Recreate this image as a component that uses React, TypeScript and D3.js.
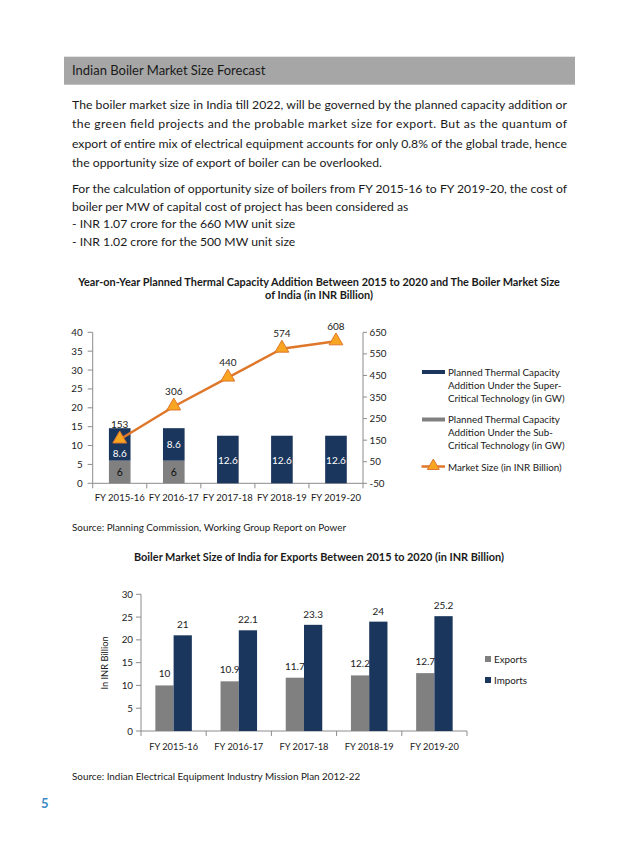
import React from "react";
import * as d3 from "d3";

// ---------- data ----------
const categories = ["FY 2015-16", "FY 2016-17", "FY 2017-18", "FY 2018-19", "FY 2019-20"];
const subCritical = [6, 6, 0, 0, 0];
const superCritical = [8.6, 8.6, 12.6, 12.6, 12.6];
const marketSize = [153, 306, 440, 574, 608];
const leftTicks = [0, 5, 10, 15, 20, 25, 30, 35, 40];
const rightTicks = [-50, 50, 150, 250, 350, 450, 550, 650];

const exportsValues = [10, 10.9, 11.7, 12.2, 12.7];
const importsValues = [21, 22.1, 23.3, 24, 25.2];
const chart2Ticks = [0, 5, 10, 15, 20, 25, 30];

const legend1 = [
  ["Planned Thermal Capacity", "Addition Under the Super-", "Critical Technology (in GW)"],
  ["Planned Thermal Capacity", "Addition Under the Sub-", "Critical Technology (in GW)"],
  ["Market Size (in INR Billion)"],
];
const legend2 = ["Exports", "Imports"];

const para1 = [
  "The boiler market size in India till 2022, will be governed by the planned capacity addition or",
  "the green field projects and the probable market size for export. But as the quantum of",
  "export of entire mix of electrical equipment accounts for only 0.8% of the global trade, hence",
  "the opportunity size of export of boiler can be overlooked.",
];
const para2 = [
  "For the calculation of opportunity size of boilers from FY 2015-16 to FY 2019-20, the cost of",
  "boiler per MW of capital cost of project has been considered as",
];
const listItems = ["- INR 1.07 crore for the 660 MW unit size", "- INR 1.02 crore for the 500 MW unit size"];

// ---------- style ----------
const FONT = "Lato, 'Open Sans', sans-serif";
const NAVY = "#1b365d";
const GRAY = "#808080";
const ORANGE = "#df772b";
const GOLD = "#f8a521";
const AXIS = "#8c8c8c";
const TEXT = "#1a1a1a";

export default function App() {
  // ---- chart 1 scales ----
  const c1 = { left: 92.7, right: 363, top: 332.3, bottom: 483.3 };
  const x1 = d3.scaleBand<string>().domain(categories).range([c1.left, c1.right]).paddingInner(0.6).paddingOuter(0.3);
  const y1 = d3.scaleLinear().domain([0, 40]).range([c1.bottom, c1.top]);
  const y1r = d3.scaleLinear().domain([-50, 650]).range([c1.bottom, c1.top]);
  const step1 = x1.step();
  const cx1 = (c: string) => (x1(c) as number) + x1.bandwidth() / 2;
  const linePath = d3
    .line<number>()
    .x((_, i) => cx1(categories[i]))
    .y((d) => y1r(d))(marketSize) as string;
  const tri = d3.symbol().type(d3.symbolTriangle).size(82)() as string;
  const triLegend = d3.symbol().type(d3.symbolTriangle).size(62)() as string;
  const labelNudge = [9, 0, 0, 0, 0];

  // ---- chart 2 scales ----
  const c2 = { left: 141, right: 467, top: 594.3, bottom: 731 };
  const x2 = d3.scaleBand<string>().domain(categories).range([c2.left, c2.right]).paddingInner(0.44).paddingOuter(0.22);
  const x2b = d3.scaleBand<string>().domain(legend2).range([0, x2.bandwidth()]);
  const y2 = d3.scaleLinear().domain([0, 30]).range([c2.bottom, c2.top]);
  const step2 = x2.step();

  const textX = 72;
  const textW = 495;
  const bodySize = 12.2;
  const p1Y = [109, 128.3, 147.5, 166.8];
  const p2Y = [192.5, 210.5];
  const lY = [228, 246.3];

  return (
    <svg
      width={638}
      height={851}
      viewBox="0 0 638 851"
      style={{ position: "absolute", left: 0, top: 0, background: "#fff" }}
      fontFamily={FONT}
    >
      <rect x={0} y={0} width={638} height={851} fill="#fff" />
      {/* header */}
      <rect x={64} y={56.7} width={511} height={28} fill="#a6a6a6" />
      <text x={72} y={75} fontSize={13} fill={TEXT}>
        Indian Boiler Market Size Forecast
      </text>

      {/* paragraphs */}
      {para1.map((t, i) => (
        <text
          key={"p1" + i}
          x={textX}
          y={p1Y[i]}
          fontSize={bodySize}
          fill={TEXT}
          {...(i < para1.length - 1 ? { textLength: textW, lengthAdjust: "spacing" } : {})}
        >
          {t}
        </text>
      ))}
      {para2.map((t, i) => (
        <text
          key={"p2" + i}
          x={textX}
          y={p2Y[i]}
          fontSize={bodySize}
          fill={TEXT}
          {...(i < para2.length - 1 ? { textLength: textW, lengthAdjust: "spacing" } : {})}
        >
          {t}
        </text>
      ))}
      {listItems.map((t, i) => (
        <text key={"li" + i} x={textX} y={lY[i]} fontSize={bodySize} fill={TEXT}>
          {t}
        </text>
      ))}

      {/* chart 1 title */}
      <text x={319} y={285.5} fontSize={10.9} fontWeight="bold" textAnchor="middle" fill={TEXT}>
        Year-on-Year Planned Thermal Capacity Addition Between 2015 to 2020 and The Boiler Market Size
      </text>
      <text x={319} y={299} fontSize={10.9} fontWeight="bold" textAnchor="middle" fill={TEXT}>
        of India (in INR Billion)
      </text>

      {/* chart 1 axes */}
      <g stroke={AXIS} strokeWidth={1}>
        <line x1={c1.left} x2={c1.left} y1={c1.top} y2={c1.bottom} />
        <line x1={c1.right} x2={c1.right} y1={c1.top} y2={c1.bottom} />
        <line x1={c1.left} x2={c1.right} y1={c1.bottom} y2={c1.bottom} />
        {leftTicks.map((t) => (
          <line key={"lt" + t} x1={c1.left - 5} x2={c1.left} y1={y1(t)} y2={y1(t)} />
        ))}
        {rightTicks.map((t) => (
          <line key={"rt" + t} x1={c1.right} x2={c1.right + 4} y1={y1r(t)} y2={y1r(t)} />
        ))}
        {d3.range(categories.length + 1).map((i) => (
          <line key={"xt" + i} x1={c1.left + i * step1} x2={c1.left + i * step1} y1={c1.bottom} y2={c1.bottom + 5} />
        ))}
      </g>
      <g fontSize={9.8} fill={TEXT}>
        {leftTicks.map((t) => (
          <text key={"ltl" + t} x={c1.left - 10} y={y1(t) + 3.5} textAnchor="end">
            {t}
          </text>
        ))}
        {rightTicks.map((t) => (
          <text key={"rtl" + t} x={c1.right + 6.5} y={y1r(t) + 3.5}>
            {t}
          </text>
        ))}
      </g>
      <g fontSize={9.5} fill={TEXT}>
        {categories.map((c) => (
          <text key={"xl" + c} x={cx1(c)} y={500.5} textAnchor="middle">
            {c}
          </text>
        ))}
      </g>

      {/* chart 1 bars */}
      {categories.map((c, i) => {
        const x = x1(c) as number;
        const w = x1.bandwidth();
        const s0 = subCritical[i];
        const s1 = s0 + superCritical[i];
        return (
          <g key={"b1" + c}>
            {s0 > 0 && <rect x={x} y={y1(s0)} width={w} height={y1(0) - y1(s0)} fill={GRAY} />}
            <rect x={x} y={y1(s1)} width={w} height={y1(s0) - y1(s1)} fill={NAVY} />
            {s0 > 0 && (
              <text x={x + w / 2} y={(y1(0) + y1(s0)) / 2 + 4} textAnchor="middle" fontSize={10.5} fill="#111">
                {s0}
              </text>
            )}
            <text
              x={x + w / 2}
              y={(y1(s0) + y1(s1)) / 2 + 4 + labelNudge[i]}
              textAnchor="middle"
              fontSize={10}
              fill="#fff"
            >
              {superCritical[i]}
            </text>
          </g>
        );
      })}

      {/* chart 1 line */}
      <path d={linePath} fill="none" stroke={ORANGE} strokeWidth={2.5} />
      {marketSize.map((v, i) => (
        <g key={"m" + i}>
          <path
            d={tri}
            transform={`translate(${cx1(categories[i])},${y1r(v) - 0.5})`}
            fill={GOLD}
            stroke={ORANGE}
            strokeWidth={1}
          />
          <text x={cx1(categories[i])} y={y1r(v) - 11.5} textAnchor="middle" fontSize={10} fill={TEXT}>
            {v}
          </text>
        </g>
      ))}

      {/* chart 1 legend */}
      <g fontSize={9.8} fill={TEXT}>
        <rect x={422} y={370} width={23} height={4} fill={NAVY} />
        {legend1[0].map((t, j) => (
          <text key={"lg0" + j} x={448} y={375.5 + j * 13}>
            {t}
          </text>
        ))}
        <rect x={422} y={417.5} width={23} height={4} fill={GRAY} />
        {legend1[1].map((t, j) => (
          <text key={"lg1" + j} x={448} y={423 + j * 13}>
            {t}
          </text>
        ))}
        <line x1={421.5} x2={445} y1={466.5} y2={466.5} stroke={ORANGE} strokeWidth={2.5} />
        <path d={triLegend} transform="translate(433.3,466)" fill={GOLD} stroke={ORANGE} strokeWidth={1} />
        <text x={448} y={470.5}>
          {legend1[2][0]}
        </text>
      </g>

      {/* source 1 */}
      <text x={72} y={531} fontSize={9.9} fill={TEXT}>
        Source: Planning Commission, Working Group Report on Power
      </text>

      {/* chart 2 title */}
      <text x={319} y={561} fontSize={10.9} fontWeight="bold" textAnchor="middle" fill={TEXT}>
        Boiler Market Size of India for Exports Between 2015 to 2020 (in INR Billion)
      </text>

      {/* chart 2 axes */}
      <g stroke={AXIS} strokeWidth={1}>
        <line x1={c2.left} x2={c2.left} y1={c2.top} y2={c2.bottom} />
        <line x1={c2.left} x2={c2.right} y1={c2.bottom} y2={c2.bottom} />
        {chart2Ticks.map((t) => (
          <line key={"t2" + t} x1={c2.left - 5} x2={c2.left} y1={y2(t)} y2={y2(t)} />
        ))}
        {d3.range(categories.length + 1).map((i) => (
          <line key={"x2t" + i} x1={c2.left + i * step2} x2={c2.left + i * step2} y1={c2.bottom} y2={c2.bottom + 5} />
        ))}
      </g>
      <g fontSize={9.8} fill={TEXT}>
        {chart2Ticks.map((t) => (
          <text key={"t2l" + t} x={c2.left - 8} y={y2(t) + 3.5} textAnchor="end">
            {t}
          </text>
        ))}
      </g>
      <g fontSize={9.3} fill={TEXT}>
        {categories.map((c) => (
          <text key={"x2l" + c} x={(x2(c) as number) + x2.bandwidth() / 2} y={750} textAnchor="middle">
            {c}
          </text>
        ))}
        <text transform="translate(107.5,663) rotate(-90)" textAnchor="middle">
          In INR Billion
        </text>
      </g>

      {/* chart 2 bars */}
      {categories.map((c, i) => {
        const gx = x2(c) as number;
        const w = x2b.bandwidth();
        const ex = gx + (x2b("Exports") as number);
        const im = gx + (x2b("Imports") as number);
        return (
          <g key={"b2" + c}>
            <rect x={ex} y={y2(exportsValues[i])} width={w} height={y2(0) - y2(exportsValues[i])} fill={GRAY} />
            <rect x={im} y={y2(importsValues[i])} width={w} height={y2(0) - y2(importsValues[i])} fill={NAVY} />
            <text x={ex + w / 2} y={y2(exportsValues[i]) - 8} textAnchor="middle" fontSize={10} fill={TEXT}>
              {exportsValues[i]}
            </text>
            <text x={im + w / 2} y={y2(importsValues[i]) - 7} textAnchor="middle" fontSize={10} fill={TEXT}>
              {importsValues[i]}
            </text>
          </g>
        );
      })}

      {/* chart 2 legend */}
      <g fontSize={9.8} fill={TEXT}>
        <rect x={485} y={656} width={6} height={6} fill={GRAY} />
        <text x={494} y={662.5}>
          {legend2[0]}
        </text>
        <rect x={485} y={677} width={6} height={6} fill={NAVY} />
        <text x={494} y={683.5}>
          {legend2[1]}
        </text>
      </g>

      {/* source 2 */}
      <text x={72} y={780} fontSize={9.9} fill={TEXT}>
        Source: Indian Electrical Equipment Industry Mission Plan 2012-22
      </text>

      {/* page number */}
      <text x={41} y={808} fontSize={13} fontWeight="bold" fill="#3b8ac4">
        5
      </text>
    </svg>
  );
}
